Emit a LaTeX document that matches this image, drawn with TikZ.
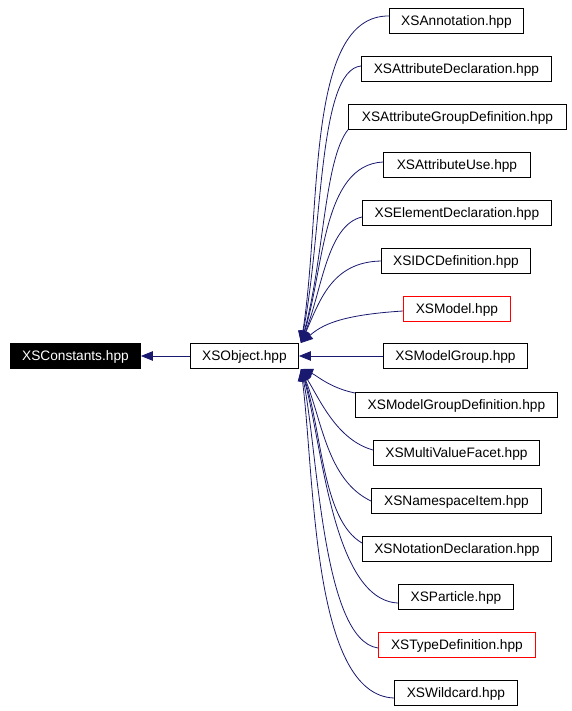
\documentclass[tikz,border=0pt]{standalone}
\usepackage{fontspec}
\setmainfont{Liberation Sans}
\usetikzlibrary{arrows.meta}
\definecolor{edgeblue}{HTML}{191970}
\tikzset{
  filebox/.style={draw=black, line width=0.9pt, fill=white, anchor=west, minimum height=24.5pt, inner sep=0pt, text height=9.9pt, text depth=0pt, font=\fontsize{13.7}{15}\selectfont},
  redbox/.style={filebox, draw=red},
  rootbox/.style={filebox, fill=black, text=white},
  dep/.style={draw=edgeblue, line width=0.8pt, -{Triangle[length=12pt,width=9.5pt]}},
}
\begin{document}
\begin{tikzpicture}[x=1pt,y=-1pt]
\useasboundingbox (0,0) rectangle (572,711);
\node[rootbox, minimum width=130pt] (cst) at (10,356) {XSConstants.hpp};
\node[filebox, minimum width=108pt] (obj) at (190,356) {XSObject.hpp};
\node[filebox, minimum width=134pt] (ann) at (389,21) {XSAnnotation.hpp};
\node[filebox, minimum width=190pt] (adc) at (361,69) {XSAttributeDeclaration.hpp};
\node[filebox, minimum width=218pt] (agd) at (348,117) {XSAttributeGroupDefinition.hpp};
\node[filebox, minimum width=147pt] (aus) at (383,165) {XSAttributeUse.hpp};
\node[filebox, minimum width=189pt] (eld) at (362,213) {XSElementDeclaration.hpp};
\node[filebox, minimum width=149pt] (idc) at (381,261) {XSIDCDefinition.hpp};
\node[redbox, minimum width=107pt] (mdl) at (403,309) {XSModel.hpp};
\node[filebox, minimum width=144pt] (mgr) at (383,356) {XSModelGroup.hpp};
\node[filebox, minimum width=202pt] (mgd) at (355,405) {XSModelGroupDefinition.hpp};
\node[filebox, minimum width=166pt] (mvf) at (373,453) {XSMultiValueFacet.hpp};
\node[filebox, minimum width=170pt] (nsi) at (371,501) {XSNamespaceItem.hpp};
\node[filebox, minimum width=189pt] (ntd) at (362,549) {XSNotationDeclaration.hpp};
\node[filebox, minimum width=115pt] (prt) at (398,597) {XSParticle.hpp};
\node[redbox, minimum width=157pt] (tdf) at (378,645) {XSTypeDefinition.hpp};
\node[filebox, minimum width=123pt] (wlc) at (394,693) {XSWildcard.hpp};
\coordinate (up) at (301,343);
\coordinate (lo) at (301,369);
% edges
\draw[dep] (obj.west) -- (cst.east);
\draw[dep] ([yshift=5pt]ann.west) .. controls (305,15) and (322,210) .. (up);
\draw[dep] ([yshift=3pt]adc.west) .. controls (318,70) and (323,230) .. (up);
\draw[dep] (agd.south west) .. controls (324,160) and (324,260) .. (up);
\draw[dep] ([yshift=3pt]aus.west) .. controls (322,165) and (324,270) .. (up);
\draw[dep] ([yshift=-4pt]eld.west) .. controls (327,225) and (322,290) .. (up);
\draw[dep] (idc.west) .. controls (332,262) and (320,300) .. (up);
\draw[dep] ([yshift=-2pt]mdl.west) .. controls (340,315) and (322,325) .. (up);
\draw[dep] (mgr.west) -- (mgr.west -| obj.east);
\draw[dep] ([yshift=12pt]mgd.west) .. controls (330,388) and (316,375) .. (lo);
\draw[dep] ([yshift=3pt]mvf.west) .. controls (337,440) and (320,400) .. (lo);
\draw[dep] (nsi.west) .. controls (327,480) and (322,420) .. (lo);
\draw[dep] ([yshift=6pt]ntd.west) .. controls (322,520) and (322,430) .. (lo);
\draw[dep] ([yshift=-6pt]prt.west) .. controls (332,600) and (322,440) .. (lo);
\draw[dep] ([yshift=-3pt]tdf.west) .. controls (322,640) and (318,450) .. (lo);
\draw[dep] ([yshift=-5pt]wlc.west) .. controls (312,695) and (315,480) .. (lo);
\end{tikzpicture}
\end{document}
